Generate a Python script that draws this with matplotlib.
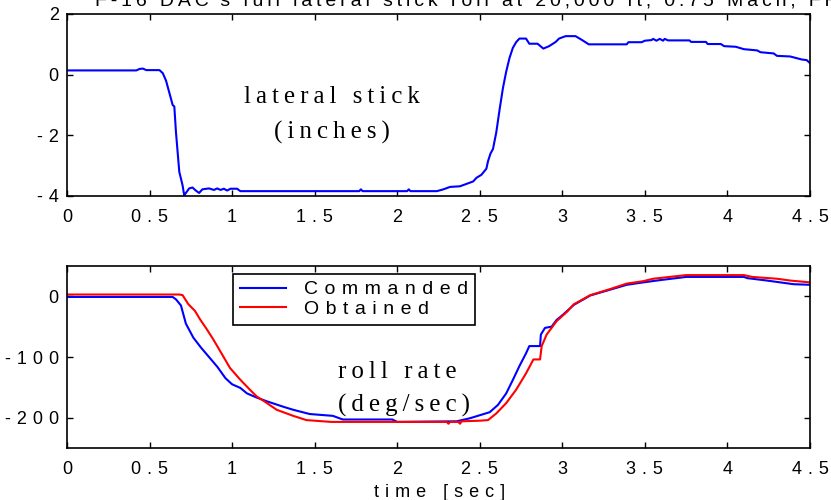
import numpy as np
import matplotlib
matplotlib.use("Agg")
import matplotlib.pyplot as plt

# lateral stick (inches) vs time
stick_t = [0, 0.42, 0.44, 0.46, 0.48, 0.56, 0.58, 0.60, 0.62, 0.64, 0.65, 0.66, 0.68,
           0.70, 0.71, 0.72, 0.74, 0.76, 0.78, 0.80, 0.82, 0.86, 0.89, 0.91, 0.93, 0.95,
           0.97, 0.99, 1.03, 1.05, 1.77, 1.78, 1.79, 2.06, 2.07, 2.08, 2.24, 2.28, 2.32,
           2.38, 2.43, 2.46, 2.48, 2.51, 2.54, 2.55, 2.565, 2.58, 2.60, 2.62, 2.64, 2.66,
           2.68, 2.70, 2.72, 2.74, 2.78, 2.80, 2.85, 2.885, 2.92, 2.96, 2.98, 3.02, 3.08,
           3.12, 3.16, 3.39, 3.40, 3.48, 3.50, 3.54, 3.55, 3.57, 3.59, 3.61, 3.62, 3.64,
           3.77, 3.78, 3.87, 3.88, 3.96, 3.98, 4.05, 4.10, 4.18, 4.20, 4.28, 4.30, 4.38,
           4.45, 4.48, 4.5]
stick_v = [0.14, 0.14, 0.19, 0.2, 0.15, 0.15, 0.05, -0.2, -0.6, -1.0, -1.05, -1.9, -3.2,
           -3.65, -3.98, -3.9, -3.75, -3.72, -3.82, -3.9, -3.78, -3.75, -3.8, -3.75, -3.8, -3.76,
           -3.82, -3.76, -3.76, -3.84, -3.84, -3.78, -3.84, -3.84, -3.78, -3.84, -3.84, -3.78, -3.7,
           -3.68, -3.58, -3.52, -3.4, -3.3, -3.1, -2.85, -2.6, -2.45, -1.9, -1.15, -0.45, 0.1,
           0.55, 0.88, 1.07, 1.19, 1.19, 1.02, 1.02, 0.86, 0.94, 1.08, 1.19, 1.27, 1.27,
           1.14, 1.0, 1.0, 1.07, 1.07, 1.12, 1.14, 1.18, 1.12, 1.18, 1.12, 1.18, 1.13,
           1.13, 1.08, 1.08, 1.01, 1.01, 0.94, 0.92, 0.84, 0.8, 0.74, 0.7, 0.62, 0.6,
           0.5, 0.48, 0.38]

# roll rate (deg/sec) vs time
cmd_t = [0, 0.64, 0.66, 0.69, 0.72, 0.765, 0.81, 0.86, 0.91, 0.96, 1.0, 1.05, 1.09, 1.15,
         1.21, 1.31, 1.37, 1.47, 1.61, 1.67, 1.97, 2.0, 2.36, 2.44, 2.50, 2.56, 2.61, 2.66,
         2.70, 2.74, 2.78, 2.80, 2.865, 2.87, 2.895, 2.935, 2.965, 3.005, 3.07, 3.17, 3.29,
         3.39, 3.49, 3.60, 3.69, 3.75, 4.10, 4.12, 4.24, 4.40, 4.5]
cmd_v = [-1, -1, -5, -15, -45, -68, -84, -100, -116, -135, -145, -151, -160, -167,
         -173, -182, -187, -194, -197, -203, -203, -207, -206, -201, -196, -191, -179, -160,
         -138, -115, -94, -82, -82, -63, -52, -50, -39, -30, -14, 1.5, 11,
         19, 23, 27, 30, 32, 32, 30, 26, 20, 19]

obt_t = [0, 0.68, 0.70, 0.735, 0.775, 0.806, 0.846, 0.886, 0.927, 0.987, 1.048, 1.108,
         1.149, 1.2, 1.27, 1.37, 1.45, 1.6, 2.3, 2.31, 2.32, 2.37, 2.38, 2.39, 2.5, 2.55,
         2.60, 2.66, 2.72, 2.78, 2.825, 2.865, 2.875, 2.905, 2.965, 3.03, 3.07, 3.17, 3.29,
         3.39, 3.49, 3.55, 3.75, 4.10, 4.15, 4.30, 4.38, 4.5]
obt_v = [3, 3, 2, -13, -24, -38, -54, -71, -90, -118, -137, -154,
         -165, -174, -187, -197, -204, -207, -207, -210, -207, -207, -210, -206, -205, -204,
         -193, -176, -154, -127, -104, -104, -82, -63, -41, -25, -13, 2, 12,
         21, 25, 29, 35, 35, 32, 29, 26, 23]

x_ticks = [0, 0.5, 1, 1.5, 2, 2.5, 3, 3.5, 4, 4.5]
x_labels = ["0", "0.5", "1", "1.5", "2", "2.5", "3", "3.5", "4", "4.5"]
stick_ticks = [-4, -2, 0, 2]
roll_ticks = [-200, -100, 0]

WIDE = "\u2004"   # letter spacing of the old plot fonts
THIN = "\u2009"


def spaced(s, gap=WIDE):
    return gap.join(s)


sans = ["Liberation Sans", "DejaVu Sans"]
serif = ["Liberation Serif", "DejaVu Serif"]
plt.rcParams["font.family"] = sans

fig = plt.figure(figsize=(8.31, 5.0), dpi=100)
ax1 = fig.add_axes([67 / 831, 1 - 196 / 500, 743 / 831, 182 / 500])
ax2 = fig.add_axes([67 / 831, 1 - 448 / 500, 743 / 831, 182 / 500])


def style(ax, yticks):
    ax.set_xlim(0, 4.5)
    ax.set_xticks(x_ticks)
    ax.set_xticklabels([spaced(s) for s in x_labels])
    ax.set_yticks(yticks)
    ax.set_yticklabels([spaced(str(v)) for v in yticks])
    ax.tick_params(direction="in", top=True, right=True, length=4.5, width=1.0,
                   labelsize=13, colors="black")
    ax.tick_params(axis="x", pad=9)
    ax.tick_params(axis="y", pad=6)
    for sp in ax.spines.values():
        sp.set_linewidth(1.2)


ax1.plot(stick_t, stick_v, color="#0000ff", lw=1.5)
ax1.set_ylim(-4, 2)
style(ax1, stick_ticks)
ax1.text(1.605, -0.94, spaced("lateral stick", THIN), family=serif, fontsize=18,
         ha="center", va="baseline")
ax1.text(1.605, -2.11, spaced("(inches)", THIN), family=serif, fontsize=18,
         ha="center", va="baseline")

ax2.plot(cmd_t, cmd_v, color="#0000ff", lw=1.5, label=spaced("Commanded"))
ax2.plot(obt_t, obt_v, color="#ff0000", lw=1.5, label=spaced("Obtained"))
ax2.set_ylim(-250, 50)
style(ax2, roll_ticks)
ax2.text(1.64, -134, spaced("roll rate", THIN), family=serif, fontsize=18,
         ha="left", va="baseline")
ax2.text(1.64, -190, spaced("(deg/sec)", THIN), family=serif, fontsize=18,
         ha="left", va="baseline")

leg = ax2.legend(loc="upper left", bbox_to_anchor=((233 - 67) / 743, 1 - 8 / 182),
                 fancybox=False, framealpha=1, edgecolor="black", fontsize=14,
                 handlelength=2.4, handletextpad=0.9, borderpad=0.35,
                 labelspacing=0.1, borderaxespad=0)
leg.get_frame().set_linewidth(1.2)

fig.text(440 / 831, 3 / 500, spaced("time [sec]"), fontsize=13,
         ha="center", va="baseline")
fig.text(95 / 831, 1 - 5 / 500,
         spaced("F-16 DAC's full lateral stick roll at 20,000 ft, 0.75 Mach, FRL", THIN),
         fontsize=14, ha="left", va="baseline")

fig.savefig("out.png", dpi=100)
